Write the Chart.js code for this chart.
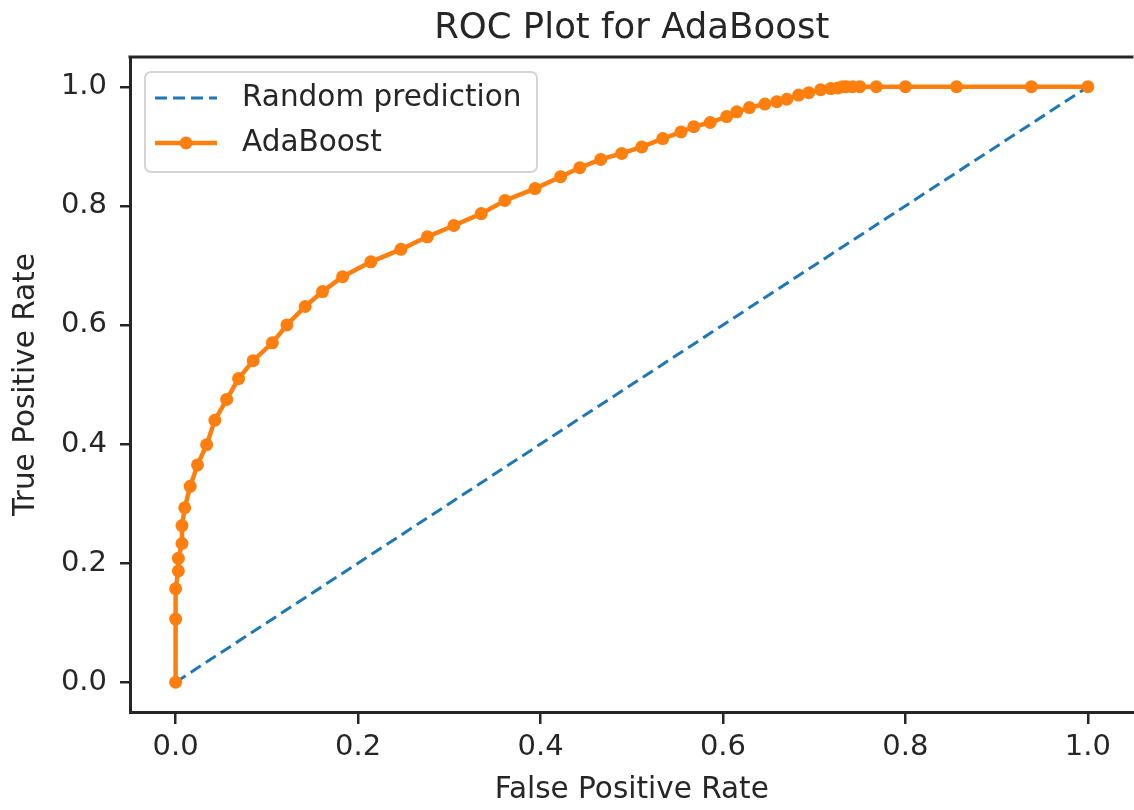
<!DOCTYPE html>
<html>
<head>
<meta charset="utf-8">
<title>ROC Plot for AdaBoost</title>
<script src="https://cdn.jsdelivr.net/npm/chart.js@4/dist/chart.umd.min.js"></script>
<style>
  html, body { margin: 0; padding: 0; background: #fff; overflow: hidden; }
</style>
</head>
<body>
<canvas id="rocChart" width="1140" height="810"></canvas>
<script>
// ROC curve points
const fpr = [0, 0, 0, 0.003, 0.003, 0.007, 0.007, 0.01, 0.016, 0.024, 0.034, 0.043, 0.056, 0.069, 0.085,
  0.106, 0.122, 0.142, 0.161, 0.183, 0.214, 0.247, 0.276, 0.305, 0.335, 0.361, 0.394, 0.422, 0.443,
  0.466, 0.489, 0.511, 0.534, 0.554, 0.568, 0.586, 0.604, 0.615, 0.629, 0.646, 0.659, 0.670, 0.683,
  0.694, 0.707, 0.718, 0.726, 0.731, 0.735, 0.742, 0.750, 0.768, 0.800, 0.856, 0.938, 1.0];
const tpr = [0, 0.106, 0.157, 0.187, 0.208, 0.233, 0.263, 0.293, 0.329, 0.365, 0.399, 0.44, 0.475, 0.51, 0.54,
  0.57, 0.60, 0.631, 0.656, 0.681, 0.706, 0.727, 0.748, 0.767, 0.787, 0.809, 0.829, 0.849, 0.864,
  0.878, 0.888, 0.899, 0.913, 0.924, 0.933, 0.940, 0.950, 0.958, 0.965, 0.971, 0.975, 0.979, 0.986,
  0.990, 0.995, 0.997, 0.998, 1.0, 1.0, 1.0, 1.0, 1.0, 1.0, 1.0, 1.0, 1.0];
const randomX = [0, 1];
const randomY = [0, 1];
const xTicks = [0, 0.2, 0.4, 0.6, 0.8, 1.0];
const yTicks = [0, 0.2, 0.4, 0.6, 0.8, 1.0];
const chartTitle = 'ROC Plot for AdaBoost';

const toPoints = (xs, ys) => xs.map((x, i) => ({ x: x, y: ys[i] }));

const FONT = "'DejaVu Sans', 'Liberation Sans', sans-serif";
const TEXT = '#262626';
const SPINE = '#262626';

// title over the axes, legend inside the axes (upper left) and top spine, like matplotlib
const boxLegend = {
  id: 'boxLegend',
  afterDraw(chart) {
    const ctx = chart.ctx;
    const area = chart.chartArea;
    ctx.save();
    // top spine
    ctx.strokeStyle = SPINE;
    ctx.lineWidth = 3;
    ctx.beginPath();
    ctx.moveTo(area.left - 1.5, area.top);
    ctx.lineTo(area.right, area.top);
    ctx.stroke();

    // title centred on the axes
    ctx.fillStyle = TEXT;
    ctx.font = '35.5px ' + FONT;
    ctx.textAlign = 'center';
    ctx.textBaseline = 'alphabetic';
    ctx.fillText(chartTitle, (area.left + area.right) / 2, 38);
    ctx.textAlign = 'left';

    const x0 = area.left + 15, y0 = area.top + 15, w = 392, h = 100;
    ctx.fillStyle = 'rgba(255,255,255,0.8)';
    ctx.strokeStyle = '#d4d4d4';
    ctx.lineWidth = 2;
    ctx.beginPath();
    ctx.roundRect(x0, y0, w, h, 6);
    ctx.fill();
    ctx.stroke();

    const items = [chart.data.datasets[1], chart.data.datasets[0]];
    items.forEach((ds, i) => {
      const cy = y0 + 26 + i * 45;
      ctx.strokeStyle = ds.borderColor;
      ctx.lineWidth = ds.borderWidth;
      ctx.setLineDash(ds.borderDash || []);
      ctx.beginPath();
      ctx.moveTo(x0 + 10, cy);
      ctx.lineTo(x0 + 72, cy);
      ctx.stroke();
      ctx.setLineDash([]);
      if (ds.pointRadius > 0) {
        ctx.fillStyle = ds.pointBackgroundColor;
        ctx.beginPath();
        ctx.arc(x0 + 41, cy, ds.pointRadius, 0, Math.PI * 2);
        ctx.fill();
      }
      ctx.fillStyle = TEXT;
      ctx.font = '29.5px ' + FONT;
      ctx.textBaseline = 'middle';
      ctx.fillText(ds.label, x0 + 97, cy);
    });
    ctx.restore();
  }
};

new Chart(document.getElementById('rocChart'), {
  type: 'line',
  data: {
    datasets: [
      {
        label: 'AdaBoost',
        data: toPoints(fpr, tpr),
        borderColor: '#ff7f0e',
        backgroundColor: '#ff7f0e',
        pointBackgroundColor: '#ff7f0e',
        borderWidth: 4.5,
        pointRadius: 6.5,
        pointBorderWidth: 0,
        tension: 0,
        order: 0
      },
      {
        label: 'Random prediction',
        data: toPoints(randomX, randomY),
        borderColor: '#1f77b4',
        borderWidth: 3,
        borderDash: [12, 6],
        pointRadius: 0,
        tension: 0,
        order: 1
      }
    ]
  },
  options: {
    responsive: false,
    animation: false,
    devicePixelRatio: 1,
    layout: { padding: { left: 0, right: 2, top: 57, bottom: 0 } },
    scales: {
      x: {
        type: 'linear',
        min: -0.05,
        max: 1.05,
        afterBuildTicks: (scale) => { scale.ticks = xTicks.map(v => ({ value: v })); },
        afterFit: (scale) => { scale.height = 98; },
        grid: { drawOnChartArea: false, drawTicks: true, tickLength: 12, color: SPINE, lineWidth: 2.5 },
        border: { display: true, color: SPINE, width: 3 },
        ticks: {
          color: TEXT,
          font: { family: FONT, size: 29 },
          padding: 6,
          maxRotation: 0,
          callback: (v) => Number(v).toFixed(1)
        },
        title: {
          display: true,
          text: 'False Positive Rate',
          color: TEXT,
          font: { family: FONT, size: 29.5 },
          padding: { top: 0, bottom: 2 }
        }
      },
      y: {
        type: 'linear',
        min: -0.05,
        max: 1.05,
        afterBuildTicks: (scale) => { scale.ticks = yTicks.map(v => ({ value: v })); },
        afterFit: (scale) => { scale.width = 130; },
        grid: { drawOnChartArea: false, drawTicks: true, tickLength: 10, color: SPINE, lineWidth: 2.5 },
        border: { display: true, color: SPINE, width: 3 },
        ticks: {
          color: TEXT,
          font: { family: FONT, size: 29 },
          padding: 13,
          callback: (v) => Number(v).toFixed(1)
        },
        title: {
          display: true,
          text: 'True Positive Rate',
          color: TEXT,
          font: { family: FONT, size: 29.5 },
          padding: { top: 9, bottom: 0 }
        }
      }
    },
    plugins: {
      legend: { display: false },
      tooltip: { enabled: false },
      title: { display: false }
    }
  },
  plugins: [boxLegend]
});
</script>
</body>
</html>
